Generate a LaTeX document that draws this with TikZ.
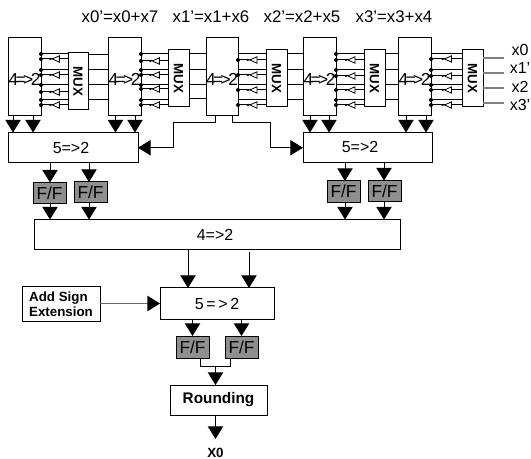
\documentclass[tikz,border=0pt]{standalone}
\usepackage{fontspec}
\setmainfont{Liberation Sans}
\usetikzlibrary{arrows.meta}
\definecolor{ffgray}{HTML}{8F8F8F}
\newcommand\bx[6][box]{%
  \pgfmathsetmacro\bxw{(#5-#3)*0.75}\pgfmathsetmacro\bxh{(#6-#4)*0.75}%
  \node[#1,minimum width=\bxw pt,minimum height=\bxh pt] (#2) at ({(#3+#5)/2},{(#4+#6)/2}) {};}
\tikzset{
  x=0.75pt,y=-0.75pt,
  box/.style={draw=black,line width=0.75pt,fill=white,inner sep=0pt,outer sep=0pt},
  ffbox/.style={box,fill=ffgray},
  sig/.style={line width=0.75pt,draw=black},
  arr/.style={sig,-{Triangle[length=9.5pt,width=11.5pt]}},
  lab/.style={inner sep=0pt,font=\fontsize{12pt}{14pt}\selectfont},
  fflab/.style={inner sep=0pt,font=\fontsize{13pt}{14pt}\selectfont},
  ltri/.pic={\draw[line width=0.6pt,fill=white] (-3.5,0)--(3.5,-3.2)--(3.5,3.2)--cycle;
    \fill (-5.5,0) circle (1.2);},
  tap/.style={circle,fill=black,inner sep=0pt,minimum size=3pt},
}
\begin{document}
\begin{tikzpicture}[line join=miter]
\useasboundingbox (0,0) rectangle (531,459);
\fill[white] (0,0) rectangle (531,459);
% heading
\foreach \cx/\t in {120/{x0'=x0+x7},211/{x1'=x1+x6},302/{x2'=x2+x5},394/{x3'=x3+x4}}{
  \node[lab,font=\fontsize{12.6pt}{14pt}\selectfont] at (\cx,17) {\t};}
% 4=>2 blocks
\bx{A}{8}{37.5}{41}{115.5}
\bx{B}{108}{38}{141}{116}
\bx{C}{206}{38}{238}{116}
\bx{D}{303}{38}{336}{116}
\bx{E}{398}{38}{431}{116}
\foreach \n/\cx in {A/24.5,B/124.5,C/222,D/319.5,E/414.5}{
  \node[lab,font=\fontsize{13pt}{14pt}\selectfont] at (\cx,79) {4\kern-1.9pt=\kern-1.9pt>\kern-1.9pt2};}
% MUX
\bx{M1}{68}{53}{88}{110}
\bx{M2}{168}{50}{189}{107}
\bx{M3}{266}{50}{287}{107}
\bx{M4}{364}{50}{385}{107}
\bx{M5}{462}{50}{483}{107}
\foreach \n in {M1,M2,M3,M4,M5}{
  \node[rotate=-90,font=\fontsize{10pt}{10pt}\bfseries\selectfont,inner sep=0pt] at (\n) {M\kern0.3pt U\kern0.3pt X};}
% straight lines between blocks and MUXes
\foreach \s/\d/\ys in {A/M1/{54,70,85,100},B/M2/{54,70,85,100},C/M3/{54,70,85,100},D/M4/{54,70,85,100},E/M5/{54,70,85,100},
                        M1/B/{55,70,85,100},M2/C/{54,70,85,99},M3/D/{54,70,85,100},M4/E/{54,70,85,100}}{
  \foreach \y in \ys { \draw[sig] (\s.east |- 0,\y) -- (\d.west |- 0,\y); }}
% inverters
\foreach \s/\d/\ys in {A/M1/{59,75,92,105},B/M2/{61,75,89,105},C/M3/{60,75,90,105},D/M4/{60,76,90,105},E/M5/{59,76,90,105}}{
  \foreach \y in \ys { \draw[sig] (\s.east |- 0,\y) -- (\d.west |- 0,\y) pic[pos=0.55]{ltri}; }}
% taps
\foreach \s/\ys in {A/{54,59,70,75,85,92,100,105},B/{54,61,70,75,85,89,100,105},C/{60,75,90,105},D/{54,60,70,76,90,100,105},E/{59,70,76,85,90,100,105}}{
  \foreach \y in \ys { \node[tap] at (\s.east |- 0,\y) {}; }}
% outputs
\foreach \y/\t/\ty in {58/x0/50,73/x1'/68,88/x2/87,103/x3'/105}{
  \coordinate (o\t) at (504,\y);
  \draw[line width=0.9pt,draw=gray] (M5.east |- 0,\y) -- (o\t);
  \node[lab] at (520,\ty) {\t};}
% 5=>2 blocks
\bx{LF}{8}{132.5}{138}{163}
\bx{RF}{303}{132.5}{432}{163}
\node[lab] at (71,148) {5=>2};
\node[lab] at (360,147) {5=>2};
\foreach \x in {13,33} \draw[arr] (\x,0 |- A.south) -- (\x,0 |- LF.north);
\foreach \x in {115.5,135} \draw[arr] (\x,0 |- B.south) -- (\x,0 |- LF.north);
\foreach \x in {310,329} \draw[arr] (\x,0 |- D.south) -- (\x,0 |- RF.north);
\foreach \x in {406,426} \draw[arr] (\x,0 |- E.south) -- (\x,0 |- RF.north);
\draw[arr] (215,0 |- C.south) |- (173,123) |- (LF.east);
\draw[arr] (232,0 |- C.south) |- (270.5,123) |- (RF.west);
% flip-flops, upper row
\bx[ffbox]{F1}{33}{182.5}{66}{204}
\bx[ffbox]{F2}{74}{182}{107}{203}
\bx[ffbox]{F3}{327}{181}{360}{202.5}
\bx[ffbox]{F4}{368}{180.5}{401}{202}
\foreach \n in {F1,F2,F3,F4}{
  \node[fflab] at (\n) {F/F};}
% central 4=>2
\bx{G}{34}{219.5}{400}{250}
\node[lab] at (215,235) {4=>2};
\draw[arr] (50,0 |- LF.south) -- (50,0 |- F1.north);
\draw[arr] (89,0 |- LF.south) -- (89,0 |- F2.north);
\draw[arr] (345,0 |- RF.south) -- (345,0 |- F3.north);
\draw[arr] (384,0 |- RF.south) -- (384,0 |- F4.north);
\draw[arr] (50,0 |- F1.south) -- (50,0 |- G.north);
\draw[arr] (89,0 |- F2.south) -- (89,0 |- G.north);
\draw[arr] (345,0 |- F3.south) -- (345,0 |- G.north);
\draw[arr] (384,0 |- F4.south) -- (384,0 |- G.north);
% lower 5=>2
\bx{H}{160}{288}{274}{319}
\node[lab] at (H) {5\,=\,>\,2};
\draw[arr] (188,0 |- G.south) -- (188,0 |- H.north);
\draw[arr] (249,252) -- (249,0 |- H.north);
% sign extension
\bx{S}{22}{287}{100}{321}
\node[align=left,inner sep=0pt,font=\fontsize{10pt}{11.3pt}\bfseries\selectfont] at (S) {Add Sign\\Extension};
\draw[line width=1pt,draw=black!60,-{Triangle[length=9.5pt,width=11.5pt,color=black]}] (S.east |- H.west) -- (H.west);
% lower flip-flops
\bx[ffbox]{F5}{176}{336}{209}{358}
\bx[ffbox]{F6}{225}{336}{258}{358}
\node[fflab] at (F5) {F/F};
\node[fflab] at (F6) {F/F};
\draw[arr] (F5 |- H.south) -- (F5.north);
\draw[arr] (F6 |- H.south) -- (F6.north);
% rounding
\bx{R}{170}{385}{267}{415}
\node[inner sep=0pt,font=\fontsize{11.5pt}{14pt}\bfseries\selectfont] at (R) {Rounding};
\coordinate (J) at (215.5,366);
\draw[sig] (200.5,0 |- F5.south) |- (J);
\draw[sig] (230.5,0 |- F6.south) |- (J);
\draw[arr] (J) -- (J |- R.north);
\node[inner sep=0pt,font=\fontsize{10pt}{10pt}\bfseries\selectfont] (X) at (215.5,452.5) {X0};
\coordinate (Xin) at (215.5,439);
\draw[arr] (J |- R.south) -- (Xin);
\end{tikzpicture}
\end{document}
